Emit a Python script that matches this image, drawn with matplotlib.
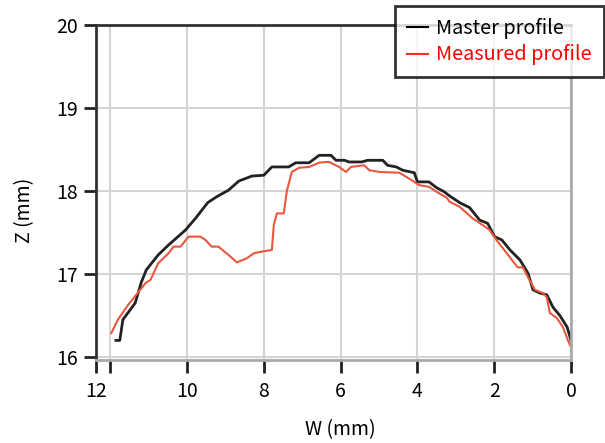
import matplotlib.pyplot as plt
import numpy as np

plt.rcParams['font.family'] = ['Noto Sans CJK JP', 'DejaVu Sans']

# master profile (black)
w_master = [11.85, 11.75, 11.67, 11.35, 11.19, 11.06, 10.75, 10.48, 10.04, 9.78, 9.46, 9.23,
            8.92, 8.65, 8.31, 8.0, 7.79, 7.35, 7.17, 6.82, 6.56, 6.25, 6.12, 5.9, 5.78,
            5.45, 5.3, 4.9, 4.78, 4.55, 4.38, 4.08, 4.0, 3.7, 3.5, 3.3, 3.16, 2.9, 2.64,
            2.38, 2.17, 1.99, 1.8, 1.59, 1.33, 1.12, 0.99, 0.81, 0.63, 0.47, 0.29, 0.1, 0.0]
z_master = [16.2, 16.2, 16.45, 16.65, 16.9, 17.05, 17.23, 17.35, 17.53, 17.67, 17.86, 17.93,
            18.01, 18.12, 18.18, 18.19, 18.29, 18.29, 18.34, 18.34, 18.43, 18.43, 18.37, 18.37, 18.35,
            18.35, 18.37, 18.37, 18.31, 18.29, 18.25, 18.22, 18.11, 18.11, 18.04, 17.99, 17.94, 17.86, 17.8,
            17.65, 17.61, 17.45, 17.41, 17.29, 17.17, 17.01, 16.81, 16.77, 16.75, 16.6, 16.5, 16.36, 16.2]

# measured profile (red)
w_meas = [11.97, 11.8, 11.53, 11.08, 10.95, 10.87, 10.75, 10.48, 10.35, 10.17, 9.96, 9.65,
          9.52, 9.36, 9.18, 8.92, 8.7, 8.44, 8.26, 8.05, 7.79, 7.74, 7.66, 7.48, 7.4,
          7.27, 7.08, 6.82, 6.56, 6.38, 6.3, 6.04, 5.86, 5.73, 5.39, 5.25, 4.99, 4.47,
          4.29, 4.08, 3.95, 3.69, 3.5, 3.24, 3.16, 2.9, 2.56, 2.3, 2.12, 1.91, 1.67, 1.54,
          1.39, 1.25, 1.12, 0.94, 0.73, 0.63, 0.55, 0.37, 0.21, 0.08, 0.0]
z_meas = [16.29, 16.45, 16.63, 16.89, 16.93, 17.01, 17.13, 17.25, 17.33, 17.33, 17.45, 17.45,
          17.41, 17.33, 17.33, 17.23, 17.14, 17.19, 17.25, 17.27, 17.29, 17.59, 17.73, 17.73, 18.0,
          18.23, 18.28, 18.29, 18.34, 18.35, 18.35, 18.29, 18.23, 18.29, 18.31, 18.25, 18.23, 18.22,
          18.17, 18.11, 18.07, 18.05, 17.99, 17.92, 17.87, 17.81, 17.67, 17.59, 17.53, 17.39, 17.25, 17.17,
          17.08, 17.08, 16.96, 16.81, 16.77, 16.72, 16.53, 16.47, 16.36, 16.2, 16.12]

x_ticks = [12.37, 12, 10, 8, 6, 4, 2, 0]
x_labels = ['12', '', '10', '8', '6', '4', '2', '0']
y_ticks = [16, 17, 18, 19, 20]

fig = plt.figure(figsize=(6.05, 4.43), dpi=100)
ax = fig.add_axes([96/605, 1-360/443, 475/605, 335/443])

ax.plot(w_master, z_master, color='#222222', lw=2, label='Master profile')
ax.plot(w_meas, z_meas, color='#e9573f', lw=1.5, label='Measured profile')

ax.set_xlim(12.37, 0)
ax.set_ylim(15.964, 20.0)
ax.set_xticks(x_ticks, x_labels)
ax.set_yticks(y_ticks)
ax.grid(True, color='#d4d4d4', lw=1.5)
ax.set_axisbelow(True)
ax.tick_params(axis='both', direction='out', length=9, width=2, color='#222222',
               labelsize=14, pad=4)
ax.tick_params(axis='x', pad=6)

for side in ['left', 'top']:
    ax.spines[side].set_color('#333333')
    ax.spines[side].set_linewidth(2)
for side in ['right', 'bottom']:
    ax.spines[side].set_color('#aaaaaa')
    ax.spines[side].set_linewidth(2)

fig.text(25/605, 1-210/443, 'Z (mm)', rotation=90, ha='center', va='center', fontsize=14)
fig.text(340/605, 1-430/443, 'W (mm)', ha='center', va='center', fontsize=14)

leg = ax.legend(loc='upper right', bbox_to_anchor=(604/605, 1-6/443),
                bbox_transform=fig.transFigure, fontsize=14.3, frameon=True,
                fancybox=False, handlelength=1.05, handletextpad=0.45,
                labelspacing=0.28, borderpad=0.6, borderaxespad=0)
leg.get_frame().set_edgecolor('black')
leg.get_frame().set_linewidth(2)
leg.get_texts()[1].set_color('#ff0000')
leg.get_lines()[0].set_color('black')
leg.get_lines()[1].set_color('#ff2a1a')
leg.get_lines()[0].set_linewidth(1.5)
leg.get_lines()[1].set_linewidth(1.5)
leg.set_zorder(5)

fig.savefig('out.png', dpi=100)
